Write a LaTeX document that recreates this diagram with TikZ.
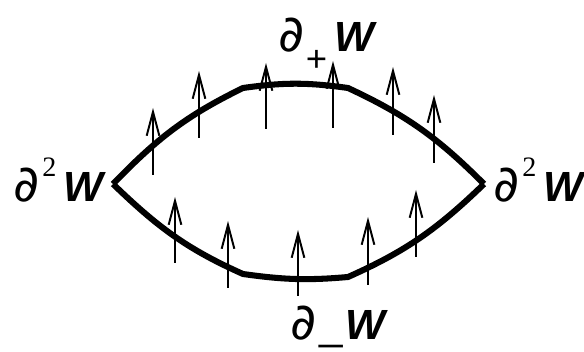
\documentclass[tikz,border=0pt]{standalone}
\usepackage{fontspec}
\setmainfont{Liberation Sans}
\newfontfamily\serifpd{Liberation Serif}
\newfontfamily\pdfont{DejaVu Sans}
\usetikzlibrary{arrows.meta}

% label pieces
\newcommand{\pd}{{\pdfont\fontsize{36}{36}\selectfont ∂}}
\newcommand{\sqrd}{\raisebox{18pt}{\serifpd\fontsize{20}{20}\selectfont 2}}
\newcommand{\bw}{{\bfseries\itshape\fontsize{30}{30}\selectfont W}}

\begin{document}
\begin{tikzpicture}[x=0.025cm,y=0.025cm,
  lbl/.style={inner sep=0pt,anchor=base west},
  bd/.style={line width=4.3pt,line join=round},
  vec/.style={line width=1.4pt,-{Straight Barb[length=17pt,width=9pt,line width=1.4pt]}}]
\useasboundingbox (0,0) rectangle (584,352);
% corners of the lens
\coordinate (L) at (113,168);
\coordinate (R) at (484,168);
\coordinate (tl) at (243,264);
\coordinate (tr) at (348,264);
\coordinate (bl) at (243,78);
\coordinate (br) at (348,75);
\draw[bd] (L) to[out=46,in=206] (tl) to[out=8,in=172] (tr) to[out=-25,in=135] (R);
\draw[bd] (L) to[out=-44,in=156] (bl) to[out=-8,in=185] (br) to[out=24,in=224] (R);
% normal field
\foreach \x/\a/\b in {153/177/244,199/214/281,266/223/289,333/224/291,393/217/285,434/189/257,
  175/89/155,228/64/131,298/56/122,368/67/135,416/95/162}
  \draw[vec] (\x,\a) -- (\x,\b);
% labels
\node[lbl] (wl) at (13,150) {\pd\kern2pt\sqrd\kern5pt\bw};
\node[lbl] (wr) at (493,150) {\pd\kern2pt\sqrd\kern5pt\bw};
\node[lbl] (wp) at (278,300) {\pd\kern1pt\raisebox{-14pt}{\fontsize{26}{26}\selectfont +}\kern5pt\bw};
\node[lbl] (wm) at (290,12) {\pd\kern2pt{\fontsize{30}{30}\selectfont\_}\kern2pt\bw};
\end{tikzpicture}
\end{document}
